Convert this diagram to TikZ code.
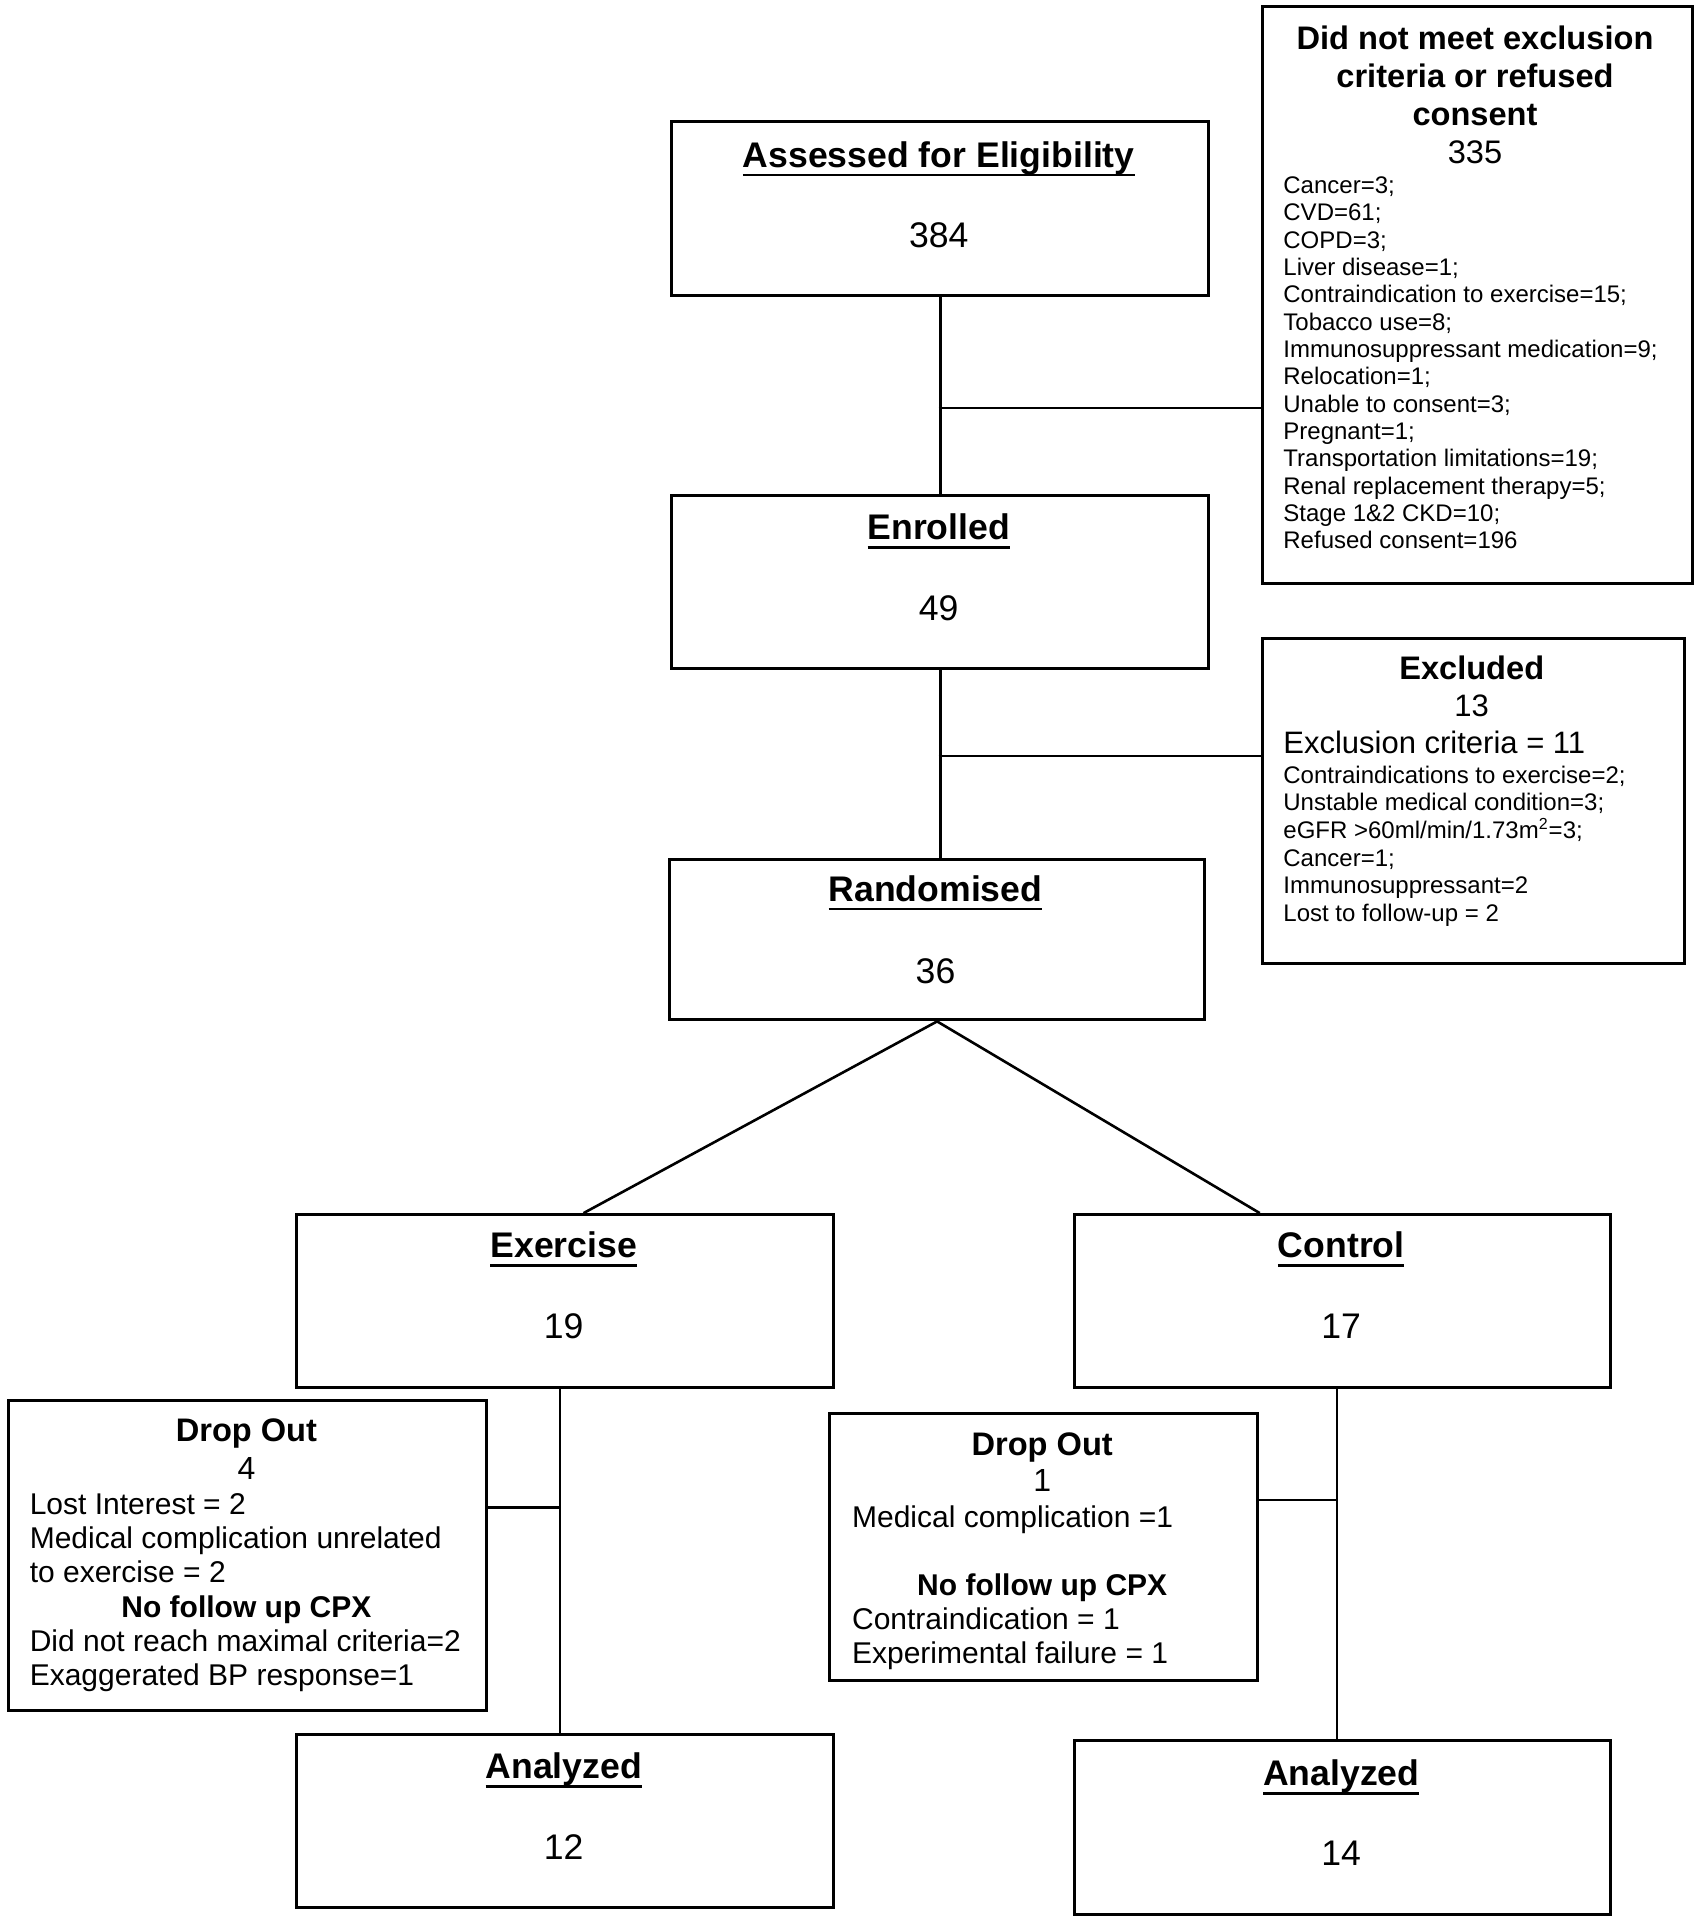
\documentclass[tikz,border=0pt]{standalone}
\usepackage{fontspec}
\setmainfont{Liberation Sans}
\usetikzlibrary{calc}
\newcommand\ulin[1]{\setbox0=\hbox{#1}\rlap{\rule[-0.26em]{\wd0}{1.4pt}}\box0}
\begin{document}
\begin{tikzpicture}[x=0.5pt,y=-0.5pt,
  box/.style={draw, line width=1.5pt, rectangle, inner sep=0pt, anchor=north west},
  conn/.style={line width=1.3pt},
  mttl/.style={anchor=base, inner sep=0pt, font=\fontsize{17.8}{21}\selectfont\bfseries},
  mnum/.style={anchor=base, inner sep=0pt, font=\fontsize{17.8}{21}\selectfont},
  sttl/.style={anchor=base, inner sep=0pt, font=\fontsize{16.3}{19}\selectfont\bfseries},
  snum/.style={anchor=base, inner sep=0pt, font=\fontsize{16}{19}\selectfont},
  body/.style={anchor=base west, inner sep=0pt, align=left, font=\fontsize{15}{17.15}\selectfont},
  bbold/.style={anchor=base, inner sep=0pt, font=\fontsize{15}{17.15}\selectfont\bfseries},
  smalllist/.style={anchor=base west, inner sep=0pt, align=left, font=\fontsize{12}{13.67}\selectfont}
]
\useasboundingbox (0,0) rectangle (1696,1920);

% main boxes
\node[box, minimum width=268.4pt, minimum height=87pt] (asm) at (670.3,120.1) {};
\node[box, minimum width=268.4pt, minimum height=86.4pt] (enr) at (670.3,493.8) {};
\node[box, minimum width=267.8pt, minimum height=80.3pt] (rnd) at (667.8,857.8) {};
\node[box, minimum width=268.4pt, minimum height=86.4pt] (exer) at (295.3,1213.1) {};
\node[box, minimum width=267.8pt, minimum height=86.4pt] (ctrl) at (1073.4,1213.1) {};
\node[box, minimum width=268.4pt, minimum height=86.4pt] (anl) at (295.3,1732.7) {};
\node[box, minimum width=267.8pt, minimum height=87pt] (anr) at (1073.4,1738.8) {};

% side boxes
\node[box, minimum width=215pt, minimum height=288.6pt] (nme) at (1261,5) {};
\node[box, minimum width=210.8pt, minimum height=162.4pt] (exc) at (1261,637.2) {};
\node[box, minimum width=239pt, minimum height=155pt] (dol) at (7.4,1399.4) {};
\node[box, minimum width=213.8pt, minimum height=133.6pt] (dor) at (828.4,1411.7) {};

% main box texts
\node[mttl] (asmT) at (938.7,167.1) {\ulin{Assessed for Eligibility}};
\node[mnum] (asmN) at (938.7,248.0) {384};
\node[mttl] (enrT) at (938.7,539.6) {\ulin{Enrolled}};
\node[mnum] (enrN) at (938.7,620.5) {49};
\node[mttl] (rndT) at (935.5,901.1) {\ulin{Randomised}};
\node[mnum] (rndN) at (935.5,983.2) {36};
\node[mttl] (exerT) at (563.7,1257.7) {\ulin{Exercise}};
\node[mnum] (exerN) at (563.7,1338.6) {19};
\node[mttl] (ctrlT) at (1341.2,1257.7) {\ulin{Control}};
\node[mnum] (ctrlN) at (1341.2,1338.6) {17};
\node[mttl] (anlT) at (563.7,1778.5) {\ulin{Analyzed}};
\node[mnum] (anlN) at (563.7,1859.4) {12};
\node[mttl] (anrT) at (1341.2,1785.8) {\ulin{Analyzed}};
\node[mnum] (anrN) at (1341.2,1865.5) {14};

% did not meet box (base anchor = last line baseline)
\node[anchor=base, inner sep=0pt, align=center, font=\fontsize{16.3}{19}\selectfont] (nmeT) at (1475,163.7)
  {\textbf{Did not meet exclusion}\\\textbf{criteria or refused}\\\textbf{consent}\\335};
\node[smalllist] (nmeL) at (1283,548.9) {Cancer=3;\\CVD=61;\\COPD=3;\\Liver disease=1;\\Contraindication to exercise=15;\\Tobacco use=8;\\Immunosuppressant medication=9;\\Relocation=1;\\Unable to consent=3;\\Pregnant=1;\\Transportation limitations=19;\\Renal replacement therapy=5;\\Stage 1\&2 CKD=10;\\Refused consent=196};

% excluded box
\node[sttl] (excT) at (1471.7,679.4) {Excluded};
\node[anchor=base, inner sep=0pt, font=\fontsize{15.5}{19}\selectfont] (excN) at (1471.7,716.9) {13};
\node[anchor=base west, inner sep=0pt, font=\fontsize{15.5}{19}\selectfont] (excC) at (1283,753.7) {Exclusion criteria = 11};
\node[smalllist, font=\fontsize{12}{13.85}\selectfont] (excL) at (1283,921.6) {Contraindications to exercise=2;\\Unstable medical condition=3;\\eGFR >60ml/min/1.73m\textsuperscript{2}=3;\\Cancer=1;\\Immunosuppressant=2\\Lost to follow-up = 2};

% drop out left
\node[sttl] (dolT) at (246.4,1441.6) {Drop Out};
\node[snum] (dolN) at (246.4,1479.6) {4};
\node[body] (dolA) at (29.4,1582.9) {Lost Interest = 2\\Medical complication unrelated\\to exercise = 2};
\node[bbold] (dolB) at (246.4,1617.2) {No follow up CPX};
\node[body] (dolC) at (29.4,1685.8) {Did not reach maximal criteria=2\\Exaggerated BP response=1};

% drop out right
\node[sttl] (dorT) at (1042.2,1455.1) {Drop Out};
\node[snum] (dorN) at (1042.2,1491.9) {1};
\node[body] (dorA) at (851.7,1527.7) {Medical complication =1};
\node[bbold] (dorB) at (1042.2,1595.1) {No follow up CPX};
\node[body] (dorC) at (851.7,1663.8) {Contraindication = 1\\Experimental failure = 1};

% connectors
\draw[conn] (asm.south) -- (enr.north);
\coordinate (j1) at (938.7,408.1);
\draw[conn] (j1) -- (j1 -| nme.west);
\draw[conn] (enr.south) -- (enr.south |- rnd.north);
\coordinate (j2) at (938.7,756.1);
\draw[conn] (j2) -- (j2 -| exc.west);
\draw[conn] (rnd.south) -- ($(exer.north west)!0.534!(exer.north east)$);
\draw[conn] (rnd.south) -- ($(ctrl.north west)!0.346!(ctrl.north east)$);
\coordinate (j3) at (560,1507.2);
\draw[conn] (j3 |- exer.south) -- (j3 |- anl.north);
\draw[conn] (j3) -- (j3 -| dol.east);
\coordinate (j4) at (1336.9,1499.9);
\draw[conn] (j4 |- ctrl.south) -- (j4 |- anr.north);
\draw[conn] (j4) -- (j4 -| dor.east);
\end{tikzpicture}
\end{document}
